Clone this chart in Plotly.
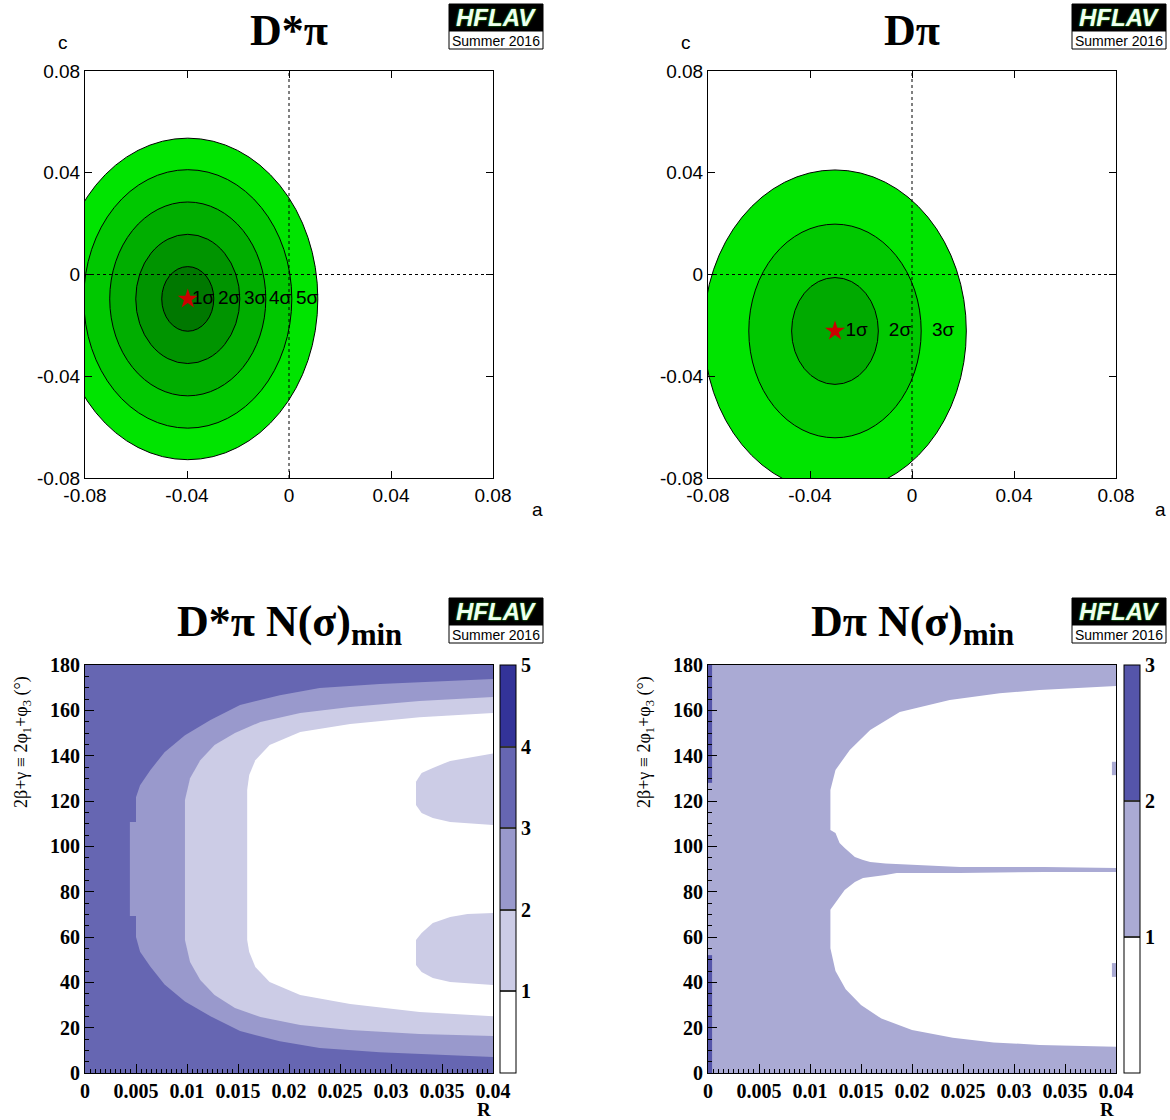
import plotly.graph_objects as go

W, H = 1170, 1120
def px(x): return x / W
def py(y): return 1 - y / H

# ---------------- Data: top panels (confidence ellipses) ----------------
dstar_center_a, dstar_center_c = -0.0397, -0.0096
dstar_half_a = [0.0102, 0.0204, 0.0306, 0.0408, 0.0510]
dstar_half_c = [0.0127, 0.0254, 0.0381, 0.0508, 0.0632]
dstar_label_a = [-0.0337, -0.0235, -0.0133, -0.0035, 0.0071]
sig_labels5 = ["1σ", "2σ", "3σ", "4σ", "5σ"]

dpi_center_a, dpi_center_c = -0.0302, -0.0222
dpi_half_a = [0.0170, 0.0338, 0.0515]
dpi_half_c = [0.0210, 0.0420, 0.0633]
dpi_label_a = [-0.0217, -0.0047, 0.0122]
sig_labels3 = ["1σ", "2σ", "3σ"]

axis_ticks_top = [-0.08, -0.04, 0, 0.04, 0.08]
axis_ticktext_top = ["-0.08", "-0.04", "0", "0.04", "0.08"]

# ---------------- Data: bottom panels (N(sigma)_min maps, boundaries) ----------------
R_edges = [0.0, 0.04]
phi_edges = [0.0, 180.0]

# D*pi : boundary between >3 and <=3 region
dstar_b3_R = [0.0400, 0.0348, 0.0289, 0.0230, 0.0191, 0.0152, 0.0123, 0.0098, 0.0078, 0.0064, 0.0054, 0.0050, 0.0050, 0.0044,
              0.0044, 0.0050, 0.0050, 0.0054, 0.0064, 0.0078, 0.0098, 0.0123, 0.0152, 0.0191, 0.0230, 0.0289, 0.0348, 0.0400]
dstar_b3_phi = [7.1, 8.0, 9.2, 11.0, 14.0, 18.5, 25.0, 31.5, 39.0, 47.0, 53.5, 60.0, 69.3, 69.3,
                110.7, 110.7, 121.7, 127.0, 133.6, 141.5, 149.0, 155.7, 162.3, 166.7, 169.8, 171.6, 172.9, 173.8]
# boundary between >2 and <=2
dstar_b2_R = [0.0400, 0.0328, 0.0260, 0.0211, 0.0172, 0.0147, 0.0127, 0.0113, 0.0103, 0.0098,
              0.0098, 0.0103, 0.0113, 0.0127, 0.0147, 0.0172, 0.0211, 0.0260, 0.0328, 0.0400]
dstar_b2_phi = [16.3, 17.2, 19.0, 21.2, 24.7, 28.7, 34.4, 41.0, 49.0, 58.7,
                120.4, 130.0, 138.0, 144.7, 150.0, 154.9, 158.8, 161.5, 164.1, 165.9]
# boundary between >1 and <=1
dstar_b1_R = [0.0400, 0.0328, 0.0260, 0.0211, 0.0181, 0.0167, 0.0161, 0.0159,
              0.0159, 0.0161, 0.0167, 0.0181, 0.0211, 0.0260, 0.0328, 0.0400]
dstar_b1_phi = [25.0, 26.9, 30.4, 34.4, 40.1, 46.8, 53.4, 58.7,
                124.9, 131.5, 138.0, 144.7, 150.4, 154.0, 157.0, 158.8]
# islands (<=2 inside white)
dstar_isl_up_R = [0.0400, 0.0375, 0.0358, 0.0341, 0.0330, 0.03245, 0.03245, 0.0330, 0.0341, 0.0358, 0.0375, 0.0400]
dstar_isl_up_phi = [109.4, 110.3, 110.7, 112.5, 114.7, 118.2, 128.5, 132.3, 134.6, 137.7, 139.0, 141.0]
dstar_isl_lo_R = [0.0400, 0.0375, 0.0358, 0.0341, 0.0330, 0.03245, 0.03245, 0.0330, 0.0341, 0.0358, 0.0375, 0.0400]
dstar_isl_lo_phi = [38.8, 39.7, 40.1, 41.9, 44.6, 47.6, 58.7, 61.8, 66.2, 68.8, 70.1, 70.6]

# D pi : white lobes (<=1)
dpi_up_R = [0.0400, 0.0325, 0.0286, 0.0237, 0.0188, 0.0159, 0.0139, 0.0125, 0.0120, 0.0120, 0.0125, 0.0129, 0.0134, 0.0139, 0.0144, 0.0152, 0.0159, 0.0174, 0.0185, 0.0211, 0.0247, 0.0330, 0.0400]
dpi_up_phi = [170.7, 169.0, 167.5, 164.6, 159.3, 151.3, 142.5, 133.7, 124.9, 107.2, 105.9, 101.5, 99.3, 97.1, 95.3, 94.0, 93.1, 92.4, 92.2, 91.8, 90.9, 90.9, 90.4]
dpi_lo_R = [0.0400, 0.0330, 0.0247, 0.0185, 0.0174, 0.0159, 0.0152, 0.0144, 0.0139, 0.0134, 0.0129, 0.0125, 0.0120, 0.0120, 0.0125, 0.0135, 0.0150, 0.0170, 0.0200, 0.0240, 0.0280, 0.0325, 0.0400]
dpi_lo_phi = [88.7, 88.7, 88.2, 88.2, 87.4, 86.5, 86.0, 84.3, 82.5, 80.7, 77.7, 75.0, 72.0, 55.0, 45.0, 37.0, 30.0, 24.0, 19.0, 15.5, 13.5, 12.4, 11.6]
# >2 strip in first R bin
dpi_dark_R = [0.0, 0.0004]
dpi_dark_phi_lo = [0.0, 52.0]
dpi_dark_phi_hi = [128.0, 180.0]
# <=2 cells in last R bin inside the white lobes
dpi_cell_R = [0.0396, 0.0400]
dpi_cell_phi_up = [131.4, 137.3]
dpi_cell_phi_lo = [42.4, 48.5]

# ---------------- styles ----------------
greens5 = ["#007800", "#009400", "#00ae00", "#00c800", "#00e400"]
greens3 = ["#00aa00", "#00c800", "#00e400"]
blues5 = ["#ffffff", "#ccccE6", "#9999cc", "#6666b2", "#333399"]
blues3 = ["#ffffff", "#aaaad4", "#5555aa"]
SANS = "Liberation Sans, Arial, sans-serif"
SERIF = "Liberation Serif, Times New Roman, serif"

fig = go.Figure()

def rect(R, phi):
    return [R[0], R[1], R[1], R[0], R[0]], [phi[0], phi[0], phi[1], phi[1], phi[0]]

def poly(fig, xs, ys, color, xa, ya, extra=None):
    kw = dict(x=xs, y=ys, mode="lines", fill="toself", fillcolor=color,
              line=dict(width=0, color=color), hoverinfo="skip", showlegend=False,
              xaxis=xa, yaxis=ya)
    if extra:
        kw.update(extra)
    fig.add_trace(go.Scatter(**kw))

def discrete_scale(colors):
    n = len(colors)
    cs = []
    for i, c in enumerate(colors):
        cs.append([i / n, c])
        cs.append([(i + 1) / n, c])
    return cs

def cbar_extra(colors, vmax, xpix, level):
    return dict(mode="lines+markers",
                marker=dict(size=1, opacity=0, color=[level] * 5, colorscale=discrete_scale(colors),
                            cmin=0, cmax=vmax, showscale=True,
                            colorbar=dict(x=px(xpix), xanchor="left", y=py(869), yanchor="middle",
                                          len=408, lenmode="pixels", thickness=16, thicknessmode="pixels",
                                          xpad=0, ypad=0, outlinewidth=1, outlinecolor="black",
                                          tickvals=list(range(1, vmax + 1)),
                                          ticktext=[str(v) for v in range(1, vmax + 1)],
                                          ticks="inside", ticklen=16, tickwidth=2, tickcolor="#333333",
                                          tickfont=dict(family=SERIF, size=20, color="black", weight="bold"))))

# ---- D*pi N(sigma)_min (xaxis3/yaxis3) ----
bx, by = rect(R_edges, phi_edges)
poly(fig, bx, by, blues5[3], "x3", "y3", cbar_extra(blues5, 5, 500, 3.5))
poly(fig, dstar_b3_R, dstar_b3_phi, blues5[2], "x3", "y3")
poly(fig, dstar_b2_R, dstar_b2_phi, blues5[1], "x3", "y3")
poly(fig, dstar_b1_R, dstar_b1_phi, blues5[0], "x3", "y3")
poly(fig, dstar_isl_up_R, dstar_isl_up_phi, blues5[1], "x3", "y3")
poly(fig, dstar_isl_lo_R, dstar_isl_lo_phi, blues5[1], "x3", "y3")

# ---- D pi N(sigma)_min (xaxis4/yaxis4) ----
poly(fig, bx, by, blues3[1], "x4", "y4", cbar_extra(blues3, 3, 1124, 1.5))
for ph in (dpi_dark_phi_lo, dpi_dark_phi_hi):
    xs, ys = rect(dpi_dark_R, ph)
    poly(fig, xs, ys, blues3[2], "x4", "y4")
poly(fig, dpi_up_R, dpi_up_phi, blues3[0], "x4", "y4")
poly(fig, dpi_lo_R, dpi_lo_phi, blues3[0], "x4", "y4")
for ph in (dpi_cell_phi_up, dpi_cell_phi_lo):
    xs, ys = rect(dpi_cell_R, ph)
    poly(fig, xs, ys, blues3[1], "x4", "y4")

# ---- top panels: ellipses as shapes ----
shapes = []
def ellipses(ca, cc, ha, hc, colors, xref, yref):
    for i in range(len(ha) - 1, -1, -1):
        shapes.append(dict(type="circle", xref=xref, yref=yref,
                           x0=ca - ha[i], x1=ca + ha[i], y0=cc - hc[i], y1=cc + hc[i],
                           fillcolor=colors[i], line=dict(color="black", width=1), layer="below"))
ellipses(dstar_center_a, dstar_center_c, dstar_half_a, dstar_half_c, greens5, "x", "y")
ellipses(dpi_center_a, dpi_center_c, dpi_half_a, dpi_half_c, greens3, "x2", "y2")
for xr, yr in (("x", "y"), ("x2", "y2")):
    shapes.append(dict(type="line", xref=xr, yref=yr, x0=0, x1=0, y0=-0.08, y1=0.08,
                       line=dict(color="black", width=1, dash="3px,3px"), layer="above"))
    shapes.append(dict(type="line", xref=xr, yref=yr, x0=-0.08, x1=0.08, y0=0, y1=0,
                       line=dict(color="black", width=1, dash="3px,3px"), layer="above"))

# stars and sigma labels
fig.add_trace(go.Scatter(x=[dstar_center_a], y=[dstar_center_c], mode="markers",
                         marker=dict(symbol="star", size=15, color="#cc0000"), xaxis="x", yaxis="y",
                         showlegend=False, hoverinfo="skip"))
fig.add_trace(go.Scatter(x=dstar_label_a, y=[dstar_center_c] * 5, mode="text", text=sig_labels5,
                         textfont=dict(family=SANS, size=19, color="black"), xaxis="x", yaxis="y",
                         showlegend=False, hoverinfo="skip"))
fig.add_trace(go.Scatter(x=[dpi_center_a], y=[dpi_center_c], mode="markers",
                         marker=dict(symbol="star", size=15, color="#cc0000"), xaxis="x2", yaxis="y2",
                         showlegend=False, hoverinfo="skip"))
fig.add_trace(go.Scatter(x=dpi_label_a, y=[dpi_center_c] * 3, mode="text", text=sig_labels3,
                         textfont=dict(family=SANS, size=19, color="black"), xaxis="x2", yaxis="y2",
                         showlegend=False, hoverinfo="skip"))

# ---- HFLAV logos ----
annotations = []
def logo(xl, yt):
    xr = xl + 94
    shapes.append(dict(type="rect", xref="paper", yref="paper", x0=px(xl), x1=px(xr), y0=py(yt + 27), y1=py(yt),
                       fillcolor="black", line=dict(color="black", width=1), layer="above"))
    shapes.append(dict(type="rect", xref="paper", yref="paper", x0=px(xl), x1=px(xr), y0=py(yt + 45), y1=py(yt + 27),
                       fillcolor="white", line=dict(color="black", width=1), layer="above"))
    annotations.append(dict(text="<b><i>HFLAV</i></b>", xref="paper", yref="paper", x=px(xl + 47), y=py(yt + 14),
                            xanchor="center", yanchor="middle", showarrow=False,
                            font=dict(family=SANS, size=24, color="#f0fff0", shadow="0px 0px 2px #22cc22")))
    annotations.append(dict(text="Summer 2016", xref="paper", yref="paper", x=px(xl + 47), y=py(yt + 36.5),
                            xanchor="center", yanchor="middle", showarrow=False,
                            font=dict(family=SANS, size=14, color="black")))
logo(449, 4)
logo(1072, 4)
logo(449, 598)
logo(1072, 598)

def ann(text, x, y, size, family, **kw):
    d = dict(text=text, xref="paper", yref="paper", x=px(x), y=py(y), xanchor="center", yanchor="middle",
             showarrow=False, font=dict(family=family, size=size, color="black"))
    d.update(kw)
    annotations.append(d)

ann("<b>D*π</b>", 289, 30, 44, SERIF)
ann("<b>Dπ</b>", 912, 30, 44, SERIF)
ann("<b>D*π N(σ)<sub>min</sub></b>", 289, 624, 44, SERIF)
ann("<b>Dπ N(σ)<sub>min</sub></b>", 912, 624, 44, SERIF)
ann("c", 63, 43, 19, SANS)
ann("c", 686, 43, 19, SANS)
ann("a", 537, 510, 19, SANS)
ann("a", 1160, 510, 19, SANS)
ann("<b>R</b>", 484, 1109, 19, SERIF)
ann("<b>R</b>", 1107, 1109, 19, SERIF)
ylab = "2β+γ ≡ 2φ<sub>1</sub>+φ<sub>3</sub> (°)"
ann(ylab, 22, 742, 18, SERIF, textangle=-90)
ann(ylab, 645, 742, 18, SERIF, textangle=-90)

# ---- axes ----
def top_axes(dom_x):
    common = dict(range=[-0.08, 0.08], tickvals=axis_ticks_top, ticktext=axis_ticktext_top,
                  ticks="inside", ticklen=7, tickcolor="black", mirror="ticks", showline=True,
                  linecolor="black", linewidth=1, showgrid=False, zeroline=False,
                  tickfont=dict(family=SANS, size=19, color="black"))
    xa = dict(domain=[px(dom_x[0]), px(dom_x[1])], **common)
    ya = dict(domain=[py(478), py(71)], **common)
    return xa, ya

def bottom_axes(dom_x):
    tickR = [0, 0.005, 0.01, 0.015, 0.02, 0.025, 0.03, 0.035, 0.04]
    textR = ["0", "0.005", "0.01", "0.015", "0.02", "0.025", "0.03", "0.035", "0.04"]
    font = dict(family=SERIF, size=20, color="black", weight="bold")
    xa = dict(domain=[px(dom_x[0]), px(dom_x[1])], range=[0, 0.04], tickvals=tickR, ticktext=textR,
              ticks="inside", ticklen=9, tickcolor="black", showline=True, mirror=True, linecolor="black",
              linewidth=1, showgrid=False, zeroline=False, tickfont=font,
              minor=dict(tick0=0, dtick=0.0005, ticks="inside", ticklen=4, tickcolor="black", showgrid=False))
    ya = dict(domain=[py(1073), py(665)], range=[0, 180], tickvals=list(range(0, 181, 20)),
              ticks="inside", ticklen=9, tickcolor="black", showline=True, mirror=True, linecolor="black",
              linewidth=1, showgrid=False, zeroline=False, tickfont=font,
              minor=dict(tick0=0, dtick=5, ticks="inside", ticklen=4, tickcolor="black", showgrid=False))
    return xa, ya

x1, y1 = top_axes((85, 493))
x2, y2 = top_axes((708, 1116))
x3, y3 = bottom_axes((85, 493))
x4, y4 = bottom_axes((708, 1116))
y1["anchor"] = "x"; x1["anchor"] = "y"
x2["anchor"] = "y2"; y2["anchor"] = "x2"
x3["anchor"] = "y3"; y3["anchor"] = "x3"
x4["anchor"] = "y4"; y4["anchor"] = "x4"

fig.update_layout(
    width=W, height=H, margin=dict(l=0, r=0, t=0, b=0, autoexpand=False),
    paper_bgcolor="white", plot_bgcolor="white", showlegend=False, hovermode=False,
    xaxis=x1, yaxis=y1, xaxis2=x2, yaxis2=y2, xaxis3=x3, yaxis3=y3, xaxis4=x4, yaxis4=y4,
    shapes=shapes, annotations=annotations,
)

fig.write_html("out.html", config={"displayModeBar": False, "staticPlot": True},
               post_script="document.body.style.margin='0px';document.documentElement.style.overflow='hidden';")
